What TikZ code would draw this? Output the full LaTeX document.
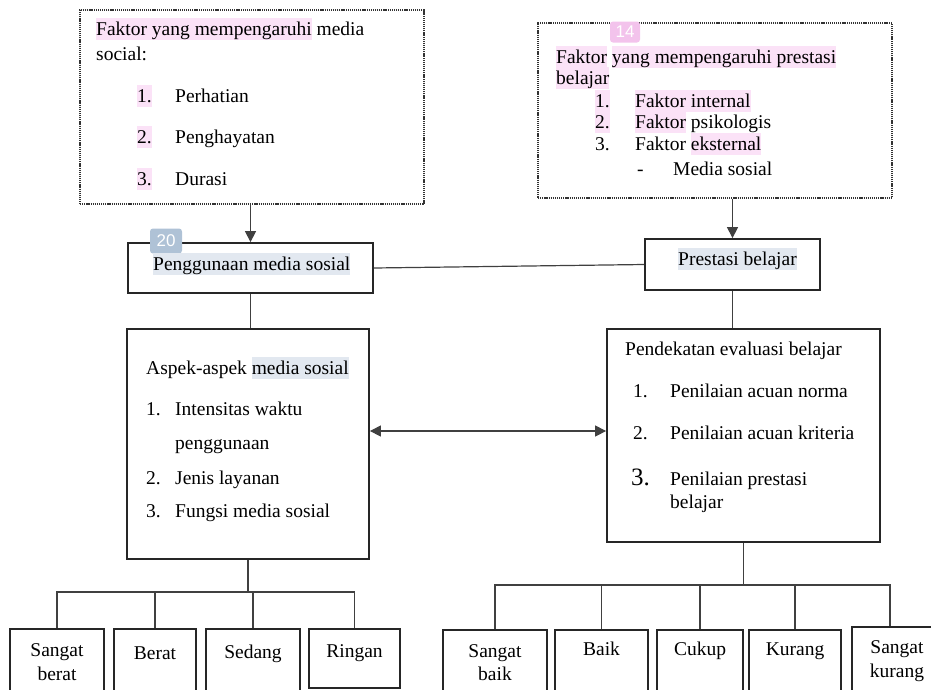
\documentclass[tikz,border=0pt]{standalone}
\usepackage{fontspec}
\setmainfont{Liberation Serif}
\newfontfamily\tagfont{Liberation Sans}
\usetikzlibrary{arrows.meta}
\definecolor{hlpink}{HTML}{FBE2F7}
\definecolor{hlblue}{HTML}{E2E8F0}
\definecolor{tagpink}{HTML}{F3C3EC}
\definecolor{tagblue}{HTML}{AFC2D6}
\newcommand{\pinkmark}[1]{{\setlength{\fboxsep}{0pt}\colorbox{hlpink}{\rule[-4.5pt]{0pt}{21.5pt}#1}}}
\newcommand{\bluemark}[1]{{\setlength{\fboxsep}{0pt}\colorbox{hlblue}{\rule[-4.5pt]{0pt}{21.5pt}#1}}}
\tikzset{
	box/.style={draw=black!85, line width=1.8pt, inner sep=0pt},
	dotbox/.style={draw=black!80, line width=1.8pt, dash pattern=on 1.2pt off 0.9pt, inner sep=0pt},
	txt/.style={anchor=base west, inner sep=0pt, font=\fontsize{19.5}{23}\selectfont},
	ctxt/.style={txt, anchor=base},
	tag/.style={rounded corners=3pt, inner sep=0pt, text=white, font=\tagfont\fontsize{17}{17}\selectfont},
	link/.style={draw=black!75, line width=1.2pt},
	arr/.style={link, -{Triangle[width=11pt,length=11pt]}},
}

\begin{document}
\begin{tikzpicture}[x=1pt, y=-1pt]
		%%%%% START %%%%%
		\useasboundingbox (0,0) rectangle (931,689);
		\clip (0,0) rectangle (931,689);
		
		% faktor boxes
		\node[dotbox, minimum width=344, minimum height=194] (faktormedia) at (252,107) {};
		\node[txt] (fm1) at (96,35) {\pinkmark{Faktor yang mempengaruhi} media};
		\node[txt] (fm2) at (96,60) {social:};
		\node[txt] (fmn1) at (137,102) {\pinkmark{1.}};
		\node[txt] (fmt1) at (175,102) {Perhatian};
		\node[txt] (fmn2) at (137,143) {\pinkmark{2.}};
		\node[txt] (fmt2) at (175,143) {Penghayatan};
		\node[txt] (fmn3) at (137,185) {\pinkmark{3.}};
		\node[txt] (fmt3) at (175,185) {Durasi};
		
		\node[dotbox, minimum width=354, minimum height=175] (faktorprestasi) at (715,110.5) {};
		\node[tag, fill=tagpink, minimum width=30, minimum height=21] (tag14) at (625,32) {14};
		\node[txt] (fp1) at (556,63) {\pinkmark{Faktor} \pinkmark{yang mempengaruhi prestasi}};
		\node[txt] (fp2) at (556,84) {\pinkmark{belajar}};
		\node[txt] (fpn1) at (595,107) {\pinkmark{1.}};
		\node[txt] (fpt1) at (635,107) {\pinkmark{Faktor internal}};
		\node[txt] (fpn2) at (595,128) {\pinkmark{2.}};
		\node[txt] (fpt2) at (635,128) {\pinkmark{Faktor} psikologis};
		\node[txt] (fpn3) at (595,150) {3.};
		\node[txt] (fpt3) at (635,150) {Faktor \pinkmark{eksternal}};
		\node[txt] (fpd) at (637,175) {-};
		\node[txt] (fpt4) at (673,175) {Media sosial};
		
		% middle row
		\node[box, minimum width=245, minimum height=50] (penggunaan) at (250.5,268) {};
		\node[tag, fill=tagblue, minimum width=32, minimum height=25] (tag20) at (166,241) {20};
		\node[txt] (pgt) at (153,270) {\bluemark{Penggunaan media sosial}};
		
		\node[box, minimum width=175, minimum height=51] (prestasi) at (732.5,264.5) {};
		\node[txt] (pst) at (678,265) {\bluemark{Prestasi belajar}};
		
		\draw[arr] (penggunaan.north |- faktormedia.south) -- (penggunaan.north);
		\draw[arr] (prestasi.north |- faktorprestasi.south) -- (prestasi.north);
		\draw[link] (penggunaan.east) -- (prestasi.west);
		
		% aspek box
		\node[box, minimum width=242, minimum height=230] (aspek) at (248,444) {};
		\node[txt] (as0) at (146,374) {Aspek-aspek \bluemark{media sosial}};
		\node[txt] (asn1) at (146,415) {1.};
		\node[txt] (ast1) at (175,415) {Intensitas waktu};
		\node[txt] (ast1b) at (175,449) {penggunaan};
		\node[txt] (asn2) at (146,484) {2.};
		\node[txt] (ast2) at (175,484) {Jenis layanan};
		\node[txt] (asn3) at (146,517) {3.};
		\node[txt] (ast3) at (175,517) {Fungsi media sosial};
		
		% evaluasi box
		\node[box, minimum width=273, minimum height=213] (evaluasi) at (743.5,435.5) {};
		\node[txt] (ev0) at (625,355) {Pendekatan evaluasi belajar};
		\node[txt] (evn1) at (633,397) {1.};
		\node[txt] (evt1) at (670,397) {Penilaian acuan norma};
		\node[txt] (evn2) at (633,439) {2.};
		\node[txt] (evt2) at (670,439) {Penilaian acuan kriteria};
		\node[txt, font=\fontsize{25}{28}\selectfont] (evn3) at (631,485) {3.};
		\node[txt] (evt3) at (670,485) {Penilaian prestasi};
		\node[txt] (evt3b) at (670,508) {belajar};
		
		\draw[link] (penggunaan.south) -- (penggunaan.south |- aspek.north);
		\draw[link] (prestasi.south) -- (prestasi.south |- evaluasi.north);
		\coordinate (mid) at (488,431);
		\draw[link, {Triangle[width=11pt,length=11pt]}-{Triangle[width=11pt,length=11pt]}] (aspek.east |- mid) -- (evaluasi.west |- mid);
		
		% kategori penggunaan
		\node[box, minimum width=94, minimum height=72, anchor=north] (sberat) at (57,628) {};
		\node[box, minimum width=82, minimum height=72, anchor=north] (berat) at (155,628) {};
		\node[box, minimum width=94, minimum height=72, anchor=north] (sedang) at (253,628) {};
		\node[box, minimum width=91, minimum height=59, anchor=north] (ringan) at (354.5,628) {};
		\node[ctxt] (sberat1) at (57,656) {Sangat};
		\node[ctxt] (sberat2) at (57,680) {berat};
		\node[ctxt] (beratt) at (155,659) {Berat};
		\node[ctxt] (sedangt) at (253,658) {Sedang};
		\node[ctxt] (ringant) at (354.5,657) {Ringan};
		
		\coordinate (busL) at (248,592);
		\draw[link] (aspek.south) -- (aspek.south |- busL);
		\draw[link] (sberat.north) |- (ringan.north |- busL) -- (ringan.north);
		\draw[link] (berat.north) -- (berat.north |- busL);
		\draw[link] (sedang.north) -- (sedang.north |- busL);
		
		% kategori prestasi
		\node[box, minimum width=104, minimum height=72, anchor=north] (sbaik) at (495,629) {};
		\node[box, minimum width=93, minimum height=72, anchor=north] (baik) at (601.5,629) {};
		\node[box, minimum width=86, minimum height=72, anchor=north] (cukup) at (700,629) {};
		\node[box, minimum width=92, minimum height=72, anchor=north] (kurang) at (795,629) {};
		\node[box, minimum width=90, minimum height=75, anchor=north] (skurang) at (897,626) {};
		\node[ctxt] (sbaik1) at (495,657) {Sangat};
		\node[ctxt] (sbaik2) at (495,680) {baik};
		\node[ctxt] (baikt) at (601.5,655) {Baik};
		\node[ctxt] (cukupt) at (700,655) {Cukup};
		\node[ctxt] (kurangt) at (795,655) {Kurang};
		\node[ctxt] (skurang1) at (897,653) {Sangat};
		\node[ctxt] (skurang2) at (897,677) {kurang};
		
		\coordinate (busR) at (745,585);
		\draw[link] (evaluasi.south) -- (evaluasi.south |- busR);
		\draw[link] (sbaik.north) |- ([xshift=-7]skurang.north |- busR) -- ([xshift=-7]skurang.north);
		\draw[link] (baik.north) -- (baik.north |- busR);
		\draw[link] (cukup.north) -- (cukup.north |- busR);
		\draw[link] (kurang.north) -- (kurang.north |- busR);
		
		%%%%% END %%%%%
\end{tikzpicture}
\end{document}
